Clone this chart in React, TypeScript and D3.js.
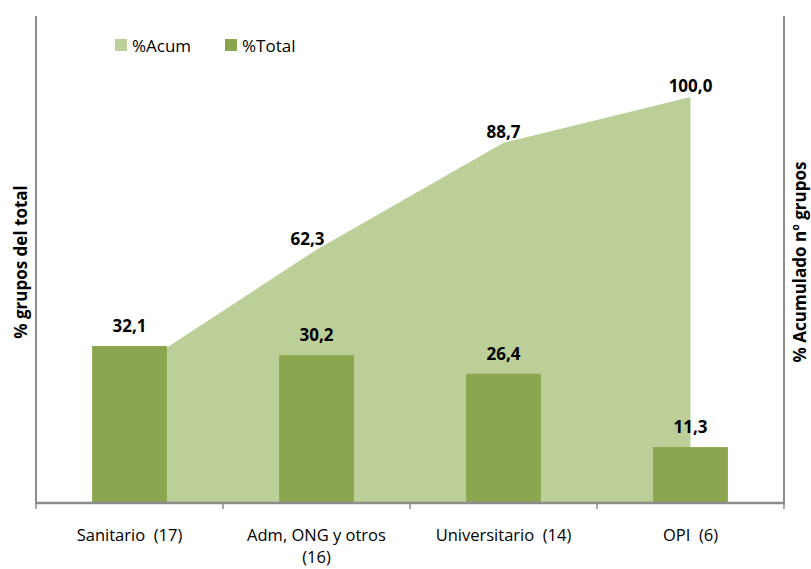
import * as d3 from 'd3'
import { useEffect, useRef } from 'react'

const categories = ['Sanitario  (17)', 'Adm, ONG y otros  (16)', 'Universitario  (14)', 'OPI  (6)']
const pctTotal = [32.1, 30.2, 26.4, 11.3]
const pctAcum = [32.1, 62.3, 88.7, 100.0]
const leftDomain = [0, 100]
const rightDomain = [0, 120]
const seriesNames = ['%Acum', '%Total']

const W = 811
const H = 569
const FONT = "'Open Sans', 'Noto Sans', sans-serif"
const BAR_COLOR = '#8ba64f'
const AREA_COLOR = '#bccf98'
const AXIS_COLOR = '#8c8c8c'

const fmt = (v: number) => d3.format('.1f')(v).replace('.', ',')

const App = () => {
  const ref = useRef<SVGSVGElement>(null)

  useEffect(() => {
    document.body.style.margin = '0'
    drawChart()
  }, [])

  const drawChart = () => {
    const svg = d3.select(ref.current)
    svg.selectAll('*').remove()
    const plot = { left: 36, right: 784, top: 16, bottom: 502 }

    const x = d3.scaleBand<string>().domain(categories).range([plot.left, plot.right]).padding(0)
    const center = (c: string) => (x(c) as number) + x.bandwidth() / 2
    const barW = x.bandwidth() * 0.4
    const yL = d3.scaleLinear().domain(leftDomain).range([plot.bottom, plot.top])
    const yR = d3.scaleLinear().domain(rightDomain).range([plot.bottom, plot.top])

    // area %Acum (eje secundario)
    const area = d3.area<number>()
      .x((d, i) => center(categories[i]))
      .y0(yR(0))
      .y1(d => yR(d))
    svg.append('path').datum(pctAcum).attr('d', area).attr('fill', AREA_COLOR)

    // barras %Total
    svg.selectAll('.bar').data(pctTotal).enter().append('rect').attr('class', 'bar')
      .attr('x', (d, i) => center(categories[i]) - barW / 2)
      .attr('y', d => yL(d))
      .attr('width', barW)
      .attr('height', d => yL(0) - yL(d))
      .attr('fill', BAR_COLOR)

    // ejes
    svg.append('line').attr('x1', plot.left).attr('x2', plot.left).attr('y1', plot.top).attr('y2', plot.bottom)
      .attr('stroke', AXIS_COLOR).attr('stroke-width', 2)
    svg.append('line').attr('x1', plot.right).attr('x2', plot.right).attr('y1', plot.top).attr('y2', plot.bottom)
      .attr('stroke', AXIS_COLOR).attr('stroke-width', 2)
    svg.append('line').attr('x1', plot.left - 1).attr('x2', plot.right + 1).attr('y1', plot.bottom + 1).attr('y2', plot.bottom + 1)
      .attr('stroke', AXIS_COLOR).attr('stroke-width', 2.5)
    const edges = categories.map(c => x(c) as number).concat([plot.right])
    svg.selectAll('.tick').data(edges).enter().append('line').attr('class', 'tick')
      .attr('x1', d => d).attr('x2', d => d).attr('y1', plot.bottom + 1).attr('y2', plot.bottom + 7)
      .attr('stroke', AXIS_COLOR).attr('stroke-width', 1.5)

    // etiquetas de categoría (con ajuste de línea)
    const catText = svg.selectAll('.cat').data(categories).enter().append('text').attr('class', 'cat')
      .attr('x', d => center(d)).attr('y', 541)
      .attr('text-anchor', 'middle').attr('font-family', FONT).attr('font-size', 16.5)
      .attr('fill', '#000').style('white-space', 'pre')
    catText.each(function (d) {
      const el = d3.select(this)
      const words = d.split(' ')
      let line: string[] = []
      let tspan = el.append('tspan').attr('x', center(d)).attr('dy', 0)
      words.forEach(w => {
        line.push(w)
        tspan.text(line.join(' '))
        if ((tspan.node() as SVGTSpanElement).getComputedTextLength() > 165 && line.length > 1) {
          line.pop()
          tspan.text(line.join(' ').trim())
          line = [w]
          tspan = el.append('tspan').attr('x', center(d)).attr('dy', 22).text(w)
        }
      })
    })

    // etiquetas de datos
    svg.selectAll('.lblBar').data(pctTotal).enter().append('text').attr('class', 'lblBar')
      .attr('x', (d, i) => center(categories[i])).attr('y', d => yL(d) - 14)
      .attr('text-anchor', 'middle').attr('font-family', FONT).attr('font-weight', 'bold').attr('font-size', 17)
      .text(d => fmt(d))
    svg.selectAll('.lblAcum').data(pctAcum.slice(1)).enter().append('text').attr('class', 'lblAcum')
      .attr('x', (d, i) => center(categories[i + 1]) - (i === 0 ? 9 : 0)).attr('y', d => yR(d) - 5)
      .attr('text-anchor', 'middle').attr('font-family', FONT).attr('font-weight', 'bold').attr('font-size', 17)
      .text(d => fmt(d))

    // títulos de ejes
    svg.append('text').attr('transform', 'translate(27,262) rotate(-90)')
      .attr('text-anchor', 'middle').attr('font-family', FONT).attr('font-weight', 'bold').attr('font-size', 17)
      .text('% grupos del total')
    svg.append('text').attr('transform', 'translate(806,262) rotate(-90)')
      .attr('text-anchor', 'middle').attr('font-family', FONT).attr('font-weight', 'bold').attr('font-size', 17)
      .text('% Acumulado nº grupos')

    // leyenda
    const legendX = [115, 225]
    const legendColors = [AREA_COLOR, BAR_COLOR]
    seriesNames.forEach((name, i) => {
      svg.append('rect').attr('x', legendX[i]).attr('y', 39).attr('width', 12).attr('height', 12).attr('fill', legendColors[i])
      svg.append('text').attr('x', legendX[i] + 17).attr('y', 52)
        .attr('font-family', FONT).attr('font-size', 17).text(name)
    })
  }

  return <svg ref={ref} width={W} height={H} style={{ display: 'block' }} />
}

export default App
